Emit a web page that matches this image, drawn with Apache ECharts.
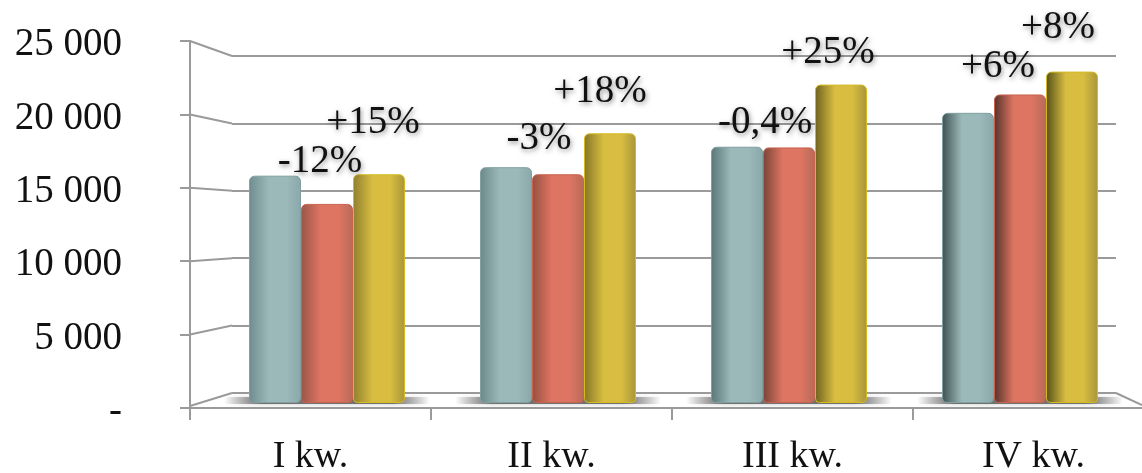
<!DOCTYPE html>
<html>
<head>
<meta charset="utf-8">
<style>html,body{margin:0;padding:0;background:#fff}#c{width:1142px;height:473px}</style>
<script src="https://cdn.jsdelivr.net/npm/echarts@6/dist/echarts.min.js"></script>
</head>
<body>
<div id="c"></div>
<script>
const categories = ['I kw.', 'II kw.', 'III kw.', 'IV kw.'];
const seriesA = [16100, 16700, 18150, 20550];
const seriesB = [14100, 16200, 18100, 21850];
const seriesC = [16200, 19100, 22550, 23470];
const labelsB = ['-12%', '-3%', '-0,4%', '+6%'];
const labelsC = ['+15%', '+18%', '+25%', '+8%'];
const tickValues = [0, 5000, 10000, 15000, 20000, 25000];
const tickLabels = ['-', '5 000', '10 000', '15 000', '20 000', '25 000'];

// layout and style, separate from data
const W = 1142, H = 473;
const front = {left: 190, width: 964, top: 41, bottom: 408};
const back = {left: 232, width: 884, top: 56, bottom: 393};
const bars = {left: 211.5, width: 924, top: 50, bottom: 403};
const floorRightX = 1142, floorRightY = 405;
const offsetsB = [[-7, -18], [-19, -11], [-24, 0], [-22, -3]];
const offsetsC = [[-6, -27], [-10, -17], [-13, -7], [-14, -19]];
const leftShadeA = ['#6f8d8e', '#6b8989', '#5a7677', '#3d5152'];
const leftShadeB = ['#9a5648', '#96503f', '#7a4336', '#55322b'];
const leftShadeC = ['#8f8030', '#857625', '#6e6220', '#55501a'];
const fontFamily = '"Liberation Serif", serif';
const gridColor = '#9a9a9a';

const chart = echarts.init(document.getElementById('c'), null, {renderer: 'canvas', width: W, height: H});

function barColor(dark, mid, right) {
  return {type: 'linear', x: 0, y: 0, x2: 1, y2: 0, colorStops: [
    {offset: 0, color: dark}, {offset: 0.38, color: mid}, {offset: 0.72, color: mid}, {offset: 1, color: right}
  ]};
}
function barData(values, shades, mid, right, border, labels, offsets) {
  return values.map((v, i) => ({
    value: v,
    itemStyle: {color: barColor(shades[i], mid, right), borderColor: border, borderWidth: 1, borderRadius: [5, 5, 4, 4]},
    label: labels ? {show: true, position: 'top', formatter: labels[i], offset: offsets[i]} : undefined
  }));
}
const percentLabel = {
  fontFamily, fontSize: 39, color: '#111',
  textShadowColor: 'rgba(0,0,0,0.45)', textShadowBlur: 5, textShadowOffsetX: 1, textShadowOffsetY: 2
};
const hiddenCat = i => ({type: 'category', gridIndex: i, data: categories, show: false});

chart.setOption({
  animation: false,
  backgroundColor: '#fff',
  grid: [
    {left: front.left, width: front.width, top: front.top, height: front.bottom - front.top, outerBoundsMode: 'none'},
    {left: back.left, width: back.width, top: back.top, height: back.bottom - back.top, outerBoundsMode: 'none'},
    {left: bars.left, width: bars.width, top: bars.top, height: bars.bottom - bars.top, outerBoundsMode: 'none'}
  ],
  xAxis: [
    {type: 'category', gridIndex: 0, data: categories,
     axisLine: {show: true, lineStyle: {color: gridColor, width: 2}},
     axisTick: {show: true, length: 12, lineStyle: {color: gridColor, width: 2}},
     axisLabel: {fontFamily, fontSize: 38, color: '#111', margin: 30, hideOverlap: false}},
    hiddenCat(1), hiddenCat(2)
  ],
  yAxis: [
    {type: 'value', gridIndex: 0, min: 0, max: 25000, interval: 5000,
     axisLine: {show: true, lineStyle: {color: gridColor, width: 2}},
     axisTick: {show: true, length: 10, lineStyle: {color: gridColor, width: 2}},
     splitLine: {show: false},
     axisLabel: {color: '#111', margin: 68, align: 'right',
       rich: {t: {fontFamily, fontSize: 39, color: '#111', padding: [8, 0, 0, 0]}},
       formatter: v => '{t|' + tickLabels[tickValues.indexOf(v)] + '}'}},
    {type: 'value', gridIndex: 1, min: 0, max: 25000, interval: 5000,
     axisLine: {show: false}, axisTick: {show: false}, axisLabel: {show: false},
     splitLine: {show: true, lineStyle: {color: gridColor, width: 2}}},
    {type: 'value', gridIndex: 2, min: 0, max: 25000, show: false, splitLine: {show: false}}
  ],
  series: [
    {type: 'custom', xAxisIndex: 0, yAxisIndex: 0, z: 1, silent: true, data: tickValues,
     encode: {y: 0},
     renderItem(params, api) {
       const v = api.value(0);
       const yF = chart.convertToPixel({yAxisIndex: 0}, v);
       const yB = chart.convertToPixel({yAxisIndex: 1}, v);
       const children = [{type: 'line', shape: {x1: front.left, y1: yF - (v === 0 ? 2 : 0), x2: back.left, y2: yB},
         style: {stroke: gridColor, lineWidth: 2}}];
       if (v === 0) children.push({type: 'line',
         shape: {x1: back.left + back.width, y1: yB, x2: floorRightX, y2: floorRightY},
         style: {stroke: gridColor, lineWidth: 2}});
       return {type: 'group', children};
     }},
    {type: 'custom', xAxisIndex: 2, yAxisIndex: 2, z: 2, silent: true, data: categories.map((c, i) => i),
     encode: {x: 0},
     renderItem(params, api) {
       const c = api.coord([api.value(0), 0]);
       const w = api.size([1, 0])[0] * 0.89;
       return {type: 'rect', shape: {x: c[0] - w / 2, y: c[1] - 6, width: w, height: 7},
         style: {fill: {type: 'linear', x: 0, y: 0, x2: 1, y2: 0, colorStops: [
           {offset: 0, color: 'rgba(100,100,100,0)'}, {offset: 0.18, color: 'rgba(95,95,95,0.85)'},
           {offset: 0.82, color: 'rgba(95,95,95,0.85)'}, {offset: 1, color: 'rgba(100,100,100,0)'}]},
           shadowBlur: 5, shadowColor: 'rgba(120,120,120,0.5)'}};
     }},
    {type: 'bar', xAxisIndex: 2, yAxisIndex: 2, z: 3, barGap: '0%', barCategoryGap: '32.5%',
     label: percentLabel,
     data: barData(seriesA, leftShadeA, '#9bb9b9', '#8aa8a9', '#7f9fa0')},
    {type: 'bar', xAxisIndex: 2, yAxisIndex: 2, z: 3,
     label: percentLabel,
     data: barData(seriesB, leftShadeB, '#de7562', '#b86a59', '#c8634f', labelsB, offsetsB)},
    {type: 'bar', xAxisIndex: 2, yAxisIndex: 2, z: 3,
     label: percentLabel,
     data: barData(seriesC, leftShadeC, '#d8bd40', '#a8953a', '#d4bb20', labelsC, offsetsC)}
  ]
});
</script>
</body>
</html>
